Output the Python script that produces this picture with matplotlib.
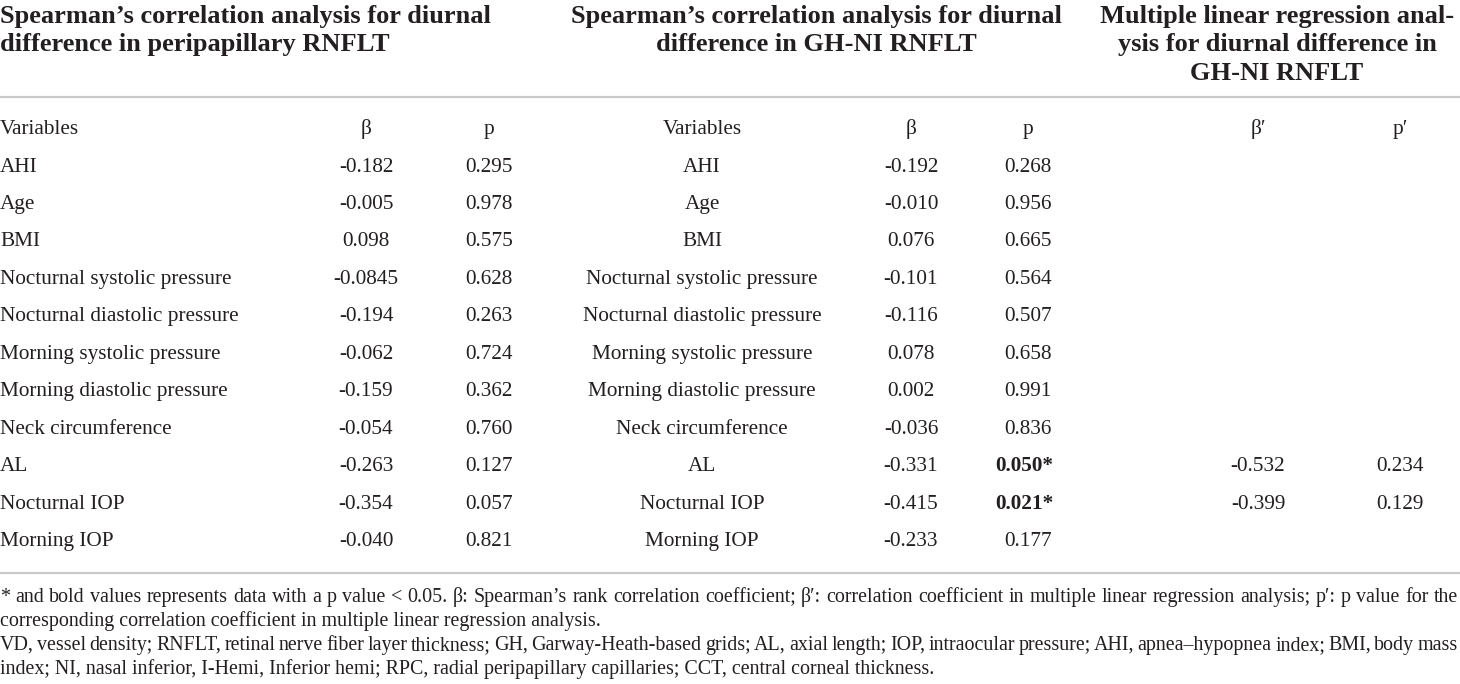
import matplotlib
matplotlib.use('Agg')
import matplotlib.pyplot as plt

# ---------------- data ----------------
variables = ['AHI', 'Age', 'BMI', 'Nocturnal systolic pressure',
             'Nocturnal diastolic pressure', 'Morning systolic pressure',
             'Morning diastolic pressure', 'Neck circumference', 'AL',
             'Nocturnal IOP', 'Morning IOP']
beta_rnflt = ['-0.182', '-0.005', '0.098', '-0.0845', '-0.194', '-0.062',
              '-0.159', '-0.054', '-0.263', '-0.354', '-0.040']
p_rnflt = ['0.295', '0.978', '0.575', '0.628', '0.263', '0.724',
           '0.362', '0.760', '0.127', '0.057', '0.821']
beta_ghni = ['-0.192', '-0.010', '0.076', '-0.101', '-0.116', '0.078',
             '0.002', '-0.036', '-0.331', '-0.415', '-0.233']
p_ghni = ['0.268', '0.956', '0.665', '0.564', '0.507', '0.658',
          '0.991', '0.836', '0.050*', '0.021*', '0.177']
beta_mlr = ['', '', '', '', '', '', '', '', '-0.532', '-0.399', '']
p_mlr = ['', '', '', '', '', '', '', '', '0.234', '0.129', '']

col_headers = ['Variables', 'β', 'p', 'Variables', 'β', 'p', 'β′', 'p′']
title1 = ['Spearman’s correlation analysis for diurnal',
          'difference in peripapillary RNFLT']
title2 = ['Spearman’s correlation analysis for diurnal',
          'difference in GH-NI RNFLT']
title3 = ['Multiple linear regression anal-',
          'ysis for diurnal difference in', 'GH-NI RNFLT']
footnotes = [
    '* and bold values represents data with a p value < 0.05. β: Spearman’s rank correlation coefficient; '
    'β′: correlation coefficient in multiple linear regression analysis; p′: p value for the',
    'corresponding correlation coefficient in multiple linear regression analysis.',
    'VD, vessel density; RNFLT, retinal nerve fiber layer thickness; GH, Garway-Heath-based grids; AL, axial '
    'length; IOP, intraocular pressure; AHI, apnea–hypopnea index; BMI, body mass',
    'index; NI, nasal inferior, I-Hemi, Inferior hemi; RPC, radial peripapillary capillaries; CCT, central corneal thickness.',
]
justified = [True, False, True, False]

# ---------------- layout ----------------
W, H = 1460, 684
fig = plt.figure(figsize=(W / 100, H / 100), dpi=100)
ax = fig.add_axes([0, 0, 1, 1])
ax.set_xlim(0, W)
ax.set_ylim(H, 0)
ax.axis('off')
renderer = fig.canvas.get_renderer()

FAM = ['Liberation Serif', 'DejaVu Serif']
INK = '#231f20'
RULE = '#c9c9c9'


def text_w(s, size, weight='normal'):
    t = ax.text(0, 0, s, fontsize=size, fontweight=weight, family=FAM)
    w = t.get_window_extent(renderer).width
    t.remove()
    return w


def fit(s, target, weight='normal'):
    return 20.0 * target / text_w(s, 20.0, weight)


body_fs = fit('Nocturnal diastolic pressure', 238)
title_fs = fit('Spearman’s correlation analysis for diurnal', 490, 'bold')
foot_fs = fit('corresponding correlation coefficient in multiple linear regression analysis.', 603)

# titles
title_base = [23, 51, 80]
for i, line in enumerate(title1):
    ax.text(0, title_base[i], line, fontsize=title_fs, fontweight='bold',
            family=FAM, color=INK, ha='left', va='baseline')
for i, line in enumerate(title2):
    ax.text(816, title_base[i], line, fontsize=title_fs, fontweight='bold',
            family=FAM, color=INK, ha='center', va='baseline')
for i, line in enumerate(title3):
    ax.text(1277, title_base[i], line, fontsize=title_fs, fontweight='bold',
            family=FAM, color=INK, ha='center', va='baseline')

# rules
ax.plot([0, W], [97, 97], color=RULE, lw=1.6, solid_capstyle='butt')
ax.plot([0, W], [573, 573], color=RULE, lw=1.6, solid_capstyle='butt')

# column positions
col_x = [0, 366, 489, 702, 911, 1028, 1258, 1400]
col_ha = ['left', 'center', 'center', 'center', 'center', 'center', 'center', 'center']

head_base = 134
for x, ha, s in zip(col_x, col_ha, col_headers):
    ax.text(x, head_base, s, fontsize=body_fs, family=FAM, color=INK,
            ha=ha, va='baseline')

row0, step = 171.5, 37.45
columns = [variables, beta_rnflt, p_rnflt, variables, beta_ghni, p_ghni, beta_mlr, p_mlr]
for r in range(len(variables)):
    y = row0 + r * step
    for c, (x, ha, vals) in enumerate(zip(col_x, col_ha, columns)):
        s = vals[r]
        if not s:
            continue
        bold = s.endswith('*')
        xx = x - 4 if bold else x
        ax.text(xx, y, s, fontsize=body_fs, family=FAM, color=INK, ha=ha,
                va='baseline', fontweight='bold' if bold else 'normal')

# footnotes
foot_base = [602, 626, 650, 674]
right = 1458
for line, just, y in zip(footnotes, justified, foot_base):
    if not just:
        ax.text(0, y, line, fontsize=foot_fs, family=FAM, color=INK,
                ha='left', va='baseline')
        continue
    words = line.split(' ')
    widths = [text_w(w, foot_fs) for w in words]
    gap = (right - sum(widths)) / (len(words) - 1)
    x = 0.0
    for w, wd in zip(words, widths):
        ax.text(x, y, w, fontsize=foot_fs, family=FAM, color=INK,
                ha='left', va='baseline')
        x += wd + gap

fig.savefig('out.png', dpi=100)
